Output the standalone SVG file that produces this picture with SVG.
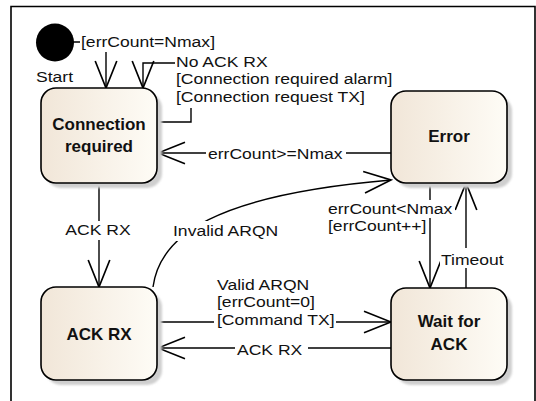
<svg xmlns="http://www.w3.org/2000/svg" width="536" height="401" viewBox="0 0 536 401">
<style>
.node{stroke:#000;stroke-width:1.6;fill:url(#g)}
.sh{fill:#cfcfcf;filter:url(#blur)}
.title{font-family:"Liberation Sans",Arial,sans-serif;font-weight:bold;font-size:17px;fill:#111;text-anchor:middle}
.lbl{font-family:"Liberation Sans",Arial,sans-serif;font-size:15px;fill:#111}
.bg{fill:#fff}
.c{fill:none;stroke:#000;stroke-width:1.4}
</style>
<defs>
<linearGradient id="g" x1="0" y1="0" x2="1" y2="0">
<stop offset="0" stop-color="#f1e6d8"/>
<stop offset="1" stop-color="#fefcf6"/>
</linearGradient>
<filter id="blur" x="-10%" y="-10%" width="120%" height="120%"><feGaussianBlur stdDeviation="1.2"/></filter>
<marker id="arr" markerUnits="userSpaceOnUse" markerWidth="30" markerHeight="24" viewBox="0 0 24 20" refX="22.5" refY="10" orient="auto">
<path d="M0,1 L22.5,10 L0,19" fill="none" stroke="#000" stroke-width="1.4"/>
</marker>
</defs>
<rect width="536" height="401" fill="#fff"/>
<path d="M11,401 V6.5 H535 V401" fill="none" stroke="#000" stroke-width="1.6"/>

<g id="connectors">
<path class="c" d="M73,42 H106 V88" marker-end="url(#arr)"/>
<path class="c" d="M157,122 H191 V63 H143 V88" marker-end="url(#arr)"/>
<path class="c" d="M391,153 H158" marker-end="url(#arr)"/>
<path class="c" d="M99,183 V287" marker-end="url(#arr)"/>
<path class="c" d="M153,287 C160,235 215,195 391,180" marker-end="url(#arr)"/>
<path class="c" d="M157,322 H391" marker-end="url(#arr)"/>
<path class="c" d="M391,348 H158" marker-end="url(#arr)"/>
<path class="c" d="M430,183 V288" marker-end="url(#arr)"/>
<path class="c" d="M466,288 V183" marker-end="url(#arr)"/>
</g>

<g id="labels">
<rect class="bg" x="80" y="32" width="138" height="20"/>
<text class="lbl" transform="translate(81,47) scale(1.17,1)">[errCount=Nmax]</text>
<rect class="bg" x="175" y="53" width="225" height="55"/>
<text class="lbl" transform="translate(176,67) scale(1.17,1)"><tspan x="0" y="0">No ACK RX</tspan><tspan x="0" y="17.5">[Connection required alarm]</tspan><tspan x="0" y="35">[Connection request TX]</tspan></text>
<rect class="bg" x="206" y="144" width="140" height="20"/>
<text class="lbl" transform="translate(208,159) scale(1.17,1)">errCount&gt;=Nmax</text>
<rect class="bg" x="64" y="221" width="68" height="19"/>
<text class="lbl" text-anchor="middle" transform="translate(98,235) scale(1.17,1)">ACK RX</text>
<rect class="bg" x="171" y="221" width="112" height="20"/>
<text class="lbl" transform="translate(173,236) scale(1.17,1)">Invalid ARQN</text>
<rect class="bg" x="214" y="275" width="122" height="56"/>
<text class="lbl" transform="translate(217,290) scale(1.17,1)"><tspan x="0" y="0">Valid ARQN</tspan><tspan x="0" y="17.5">[errCount=0]</tspan><tspan x="0" y="35">[Command TX]</tspan></text>
<rect class="bg" x="235" y="340" width="73" height="19"/>
<text class="lbl" transform="translate(237,355) scale(1.17,1)">ACK RX</text>
<rect class="bg" x="327" y="200" width="128" height="18"/>
<rect class="bg" x="327" y="218" width="101" height="17"/>
<text class="lbl" transform="translate(328,214) scale(1.17,1)"><tspan x="0" y="0">errCount&lt;Nmax</tspan><tspan x="0" y="17.5">[errCount++]</tspan></text>
<rect class="bg" x="440" y="248" width="65" height="20"/>
<text class="lbl" transform="translate(441,265) scale(1.17,1)">Timeout</text>
</g>

<g id="start">
<circle cx="55" cy="42.5" r="19" fill="#000"/>
<text class="lbl" transform="translate(36,82) scale(1.17,1)">Start</text>
</g>

<g id="connection-required">
<rect class="sh" x="46" y="93" width="116" height="95" rx="15"/>
<rect class="node" x="41" y="88" width="116" height="95" rx="15"/>
<text class="title" x="99" y="130">Connection</text>
<text class="title" x="99" y="152">required</text>
</g>

<g id="error">
<rect class="sh" x="396" y="96" width="116" height="92" rx="15"/>
<rect class="node" x="391" y="91" width="116" height="92" rx="15"/>
<text class="title" x="449" y="142">Error</text>
</g>

<g id="ack-rx">
<rect class="sh" x="46" y="292" width="116" height="93" rx="15"/>
<rect class="node" x="41" y="287" width="116" height="93" rx="15"/>
<text class="title" x="99" y="340">ACK RX</text>
</g>

<g id="wait-for-ack">
<rect class="sh" x="396" y="293" width="116" height="92" rx="15"/>
<rect class="node" x="391" y="288" width="116" height="92" rx="15"/>
<text class="title" x="449" y="327">Wait for</text>
<text class="title" x="449" y="350">ACK</text>
</g>
</svg>
